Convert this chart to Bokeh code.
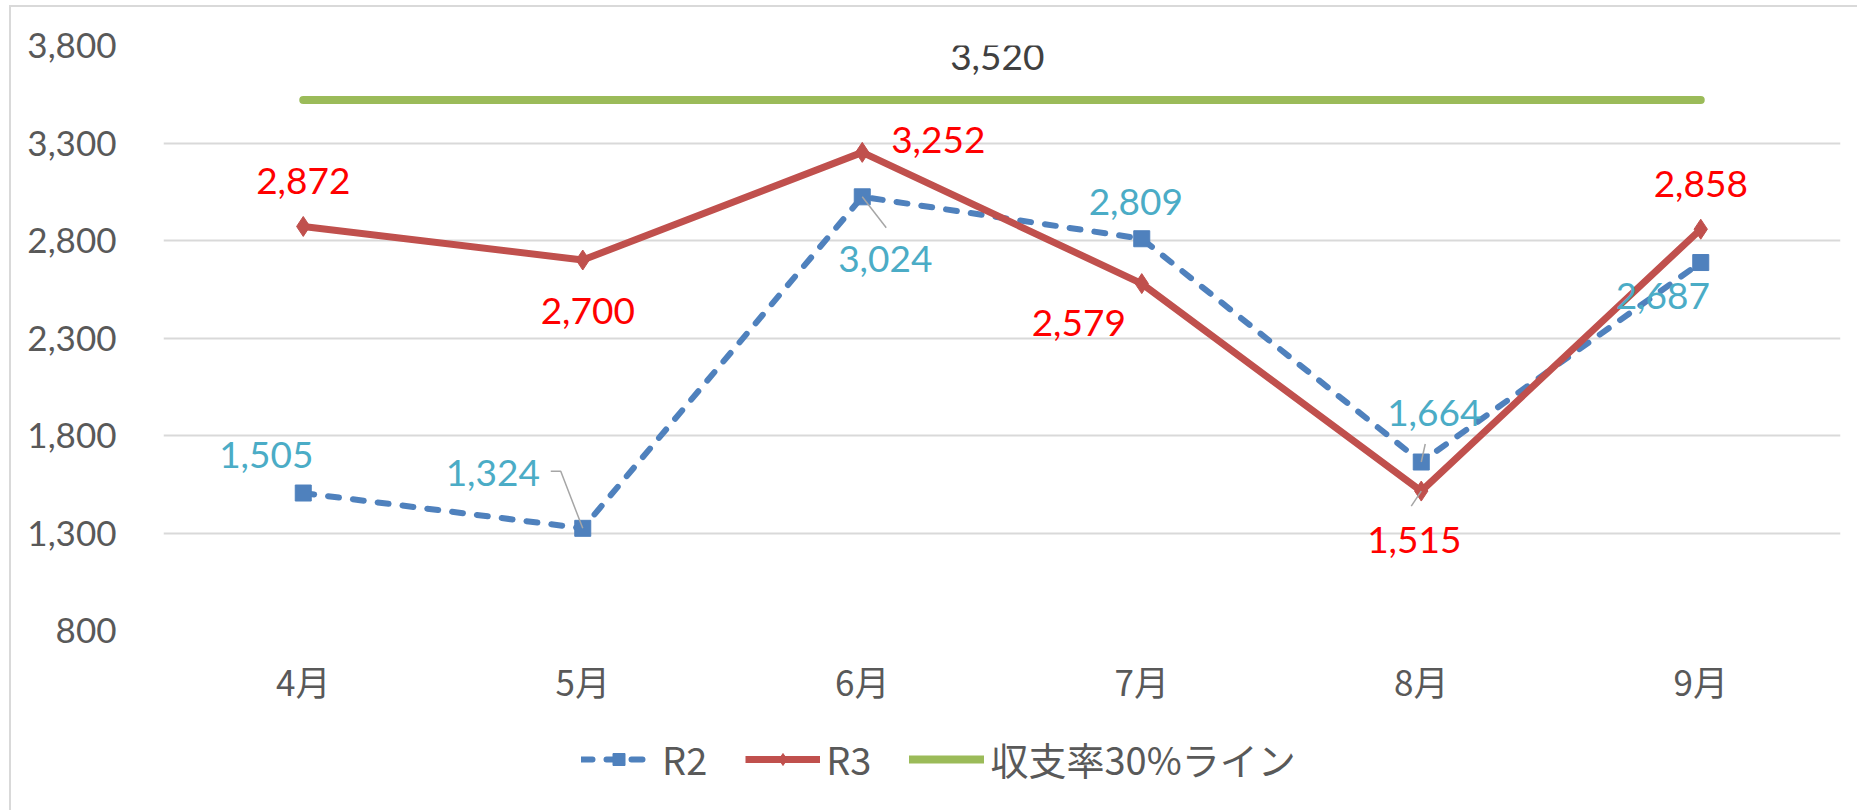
from bokeh.plotting import figure
from bokeh.layouts import column
from bokeh.models import (FixedTicker, NumeralTickFormatter, Legend, LegendItem, Range1d)
from bokeh.core.properties import value
from bokeh.embed import file_html
from bokeh.resources import INLINE

# ---- data ----
months = ["4月", "5月", "6月", "7月", "8月", "9月"]
r2 = [1505, 1324, 3024, 2809, 1664, 2687]
r3 = [2872, 2700, 3252, 2579, 1515, 2858]
line30 = [3520, 3520, 3520, 3520, 3520, 3520]
y_ticks = [800, 1300, 1800, 2300, 2800, 3300, 3800]
series_names = ["R2", "R3", "収支率30%ライン"]

# ---- label placement (pixel offsets, styling only) ----
r3_dx = [0, 5, 76, -63, -7, 0]
r3_dy = [-45, 51, -12, 39, 49, -45]
r2_dx = [-37, -90, 23, -6, 13, -38]
r2_dy = [-38, -55, 62, -37, -49, 33]

# ---- styles ----
C_R2, C_R3, C_G = "#4F81BD", "#C0504D", "#9BBB59"
R2_STYLE = dict(line_color=C_R2, line_width=6, line_dash="11 14", line_cap="round")
R3_STYLE = dict(line_color=C_R3, line_width=7, line_join="round")
G_STYLE = dict(line_color=C_G, line_width=8, line_cap="round")

xs = list(range(len(months)))
Y0, Y1 = 800, 3800
FRAME_W, FRAME_H = 1677, 585
PX_X = (len(months)) / FRAME_W
PX_Y = (Y1 - Y0) / FRAME_H
TOTAL_W, TOTAL_H = 1846, 803
MAIN_H = 38 + FRAME_H + 90

p = figure(width=TOTAL_W, height=MAIN_H,
           x_range=Range1d(-0.5, len(months) - 0.5), y_range=Range1d(Y0, Y1),
           output_backend="svg", toolbar_location=None,
           min_border_left=152, min_border_right=17, min_border_top=38, min_border_bottom=90)
p.outline_line_color = None

p.xgrid.visible = False
p.ygrid.grid_line_color = "#D9D9D9"
p.ygrid.grid_line_width = 2

for ax in (p.xaxis[0], p.yaxis[0]):
    ax.axis_line_color = None
    ax.major_tick_line_color = None
    ax.minor_tick_line_color = None
    ax.major_label_text_color = "#595959"

p.yaxis.ticker = FixedTicker(ticks=y_ticks)
p.yaxis.formatter = NumeralTickFormatter(format="0,0")
p.yaxis.major_label_text_font = "Lato"
p.yaxis.major_label_text_font_size = "35px"
p.yaxis.major_label_standoff = 41

p.xaxis.ticker = FixedTicker(ticks=xs)
p.xaxis.major_label_overrides = {i: m for i, m in enumerate(months)}
p.xaxis.major_label_text_font = "Noto Sans CJK JP"
p.xaxis.major_label_text_font_size = "35px"
p.xaxis.major_label_standoff = 18

# ---- series ----
p.line(xs, r2, **R2_STYLE)
p.scatter(xs, r2, marker="square", size=16, color=C_R2)
p.line(xs, r3, **R3_STYLE)
p.scatter(xs, r3, marker="diamond", size=20, color=C_R3)
p.line(xs, line30, **G_STYLE)

# ---- leader lines (from data point, offsets in px) ----
def pt(i, vals, dx, dy):
    return xs[i] + dx * PX_X, vals[i] - dy * PX_Y

leaders = [
    (1, r2, [(-32, -57), (-22, -57), (0, 0)]),
    (2, r2, [(0, 0), (24, 31)]),
    (4, r2, [(0, 0), (4, -18)]),
    (4, r3, [(0, 0), (-10, 15)]),
]
lx, ly = [], []
for i, vals, offs in leaders:
    pts = [pt(i, vals, dx, dy) for dx, dy in offs]
    lx.append([a for a, b in pts])
    ly.append([b for a, b in pts])
p.multi_line(lx, ly, line_color="#A6A6A6", line_width=1.5)

# ---- data labels ----
p.text(x=xs, y=r3, text=[f"{v:,}" for v in r3], x_offset=r3_dx, y_offset=r3_dy,
       text_color="#FF0000", text_font=value("Lato"), text_font_size="37px",
       text_align="center", text_baseline="middle")
p.text(x=xs, y=r2, text=[f"{v:,}" for v in r2], x_offset=r2_dx, y_offset=r2_dy,
       text_color="#4BACC6", text_font=value("Lato"), text_font_size="37px",
       text_align="center", text_baseline="middle")
p.text(x=[xs[2]], y=[line30[2]], text=[f"{line30[2]:,}"], x_offset=135, y_offset=-43,
       text_color="#404040", text_font=value("Lato"), text_font_size="37px",
       text_align="center", text_baseline="middle")

# ---- legend strip (separate figure below the chart) ----
pl = figure(width=TOTAL_W, height=TOTAL_H - MAIN_H, x_range=Range1d(0, 1), y_range=Range1d(0, 1),
            x_axis_type=None, y_axis_type=None, output_backend="svg", toolbar_location=None,
            min_border=0)
pl.outline_line_color = None
pl.grid.visible = False
nan = float("nan")
e = dict(x=[nan], y=[nan])   # legend-only stand-ins, nothing is drawn
k2a = pl.line(**e, **R2_STYLE)
k2b = pl.scatter(**e, marker="square", size=18, color=C_R2)
k3a = pl.line(**e, **R3_STYLE)
k3b = pl.scatter(**e, marker="diamond", size=22, color=C_R3)
kg = pl.line(**e, **G_STYLE)
legend = Legend(items=[LegendItem(label=series_names[0], renderers=[k2a, k2b]),
                       LegendItem(label=series_names[1], renderers=[k3a, k3b]),
                       LegendItem(label=series_names[2], renderers=[kg])],
                orientation="horizontal", location=(418, 24),
                label_text_font="Noto Sans CJK JP", label_text_font_size="38px",
                label_text_color="#595959", glyph_width=75, glyph_height=30,
                label_standoff=6, spacing=38, border_line_color=None,
                background_fill_alpha=0, padding=5, margin=0)
pl.add_layout(legend, "center")

layout = column(p, pl, spacing=0,
                styles={"margin-left": "9px", "margin-top": "5px",
                        "border-top": "2px solid #D9D9D9", "border-left": "2px solid #D9D9D9"})

open("out.html", "w").write(file_html(layout, INLINE))
